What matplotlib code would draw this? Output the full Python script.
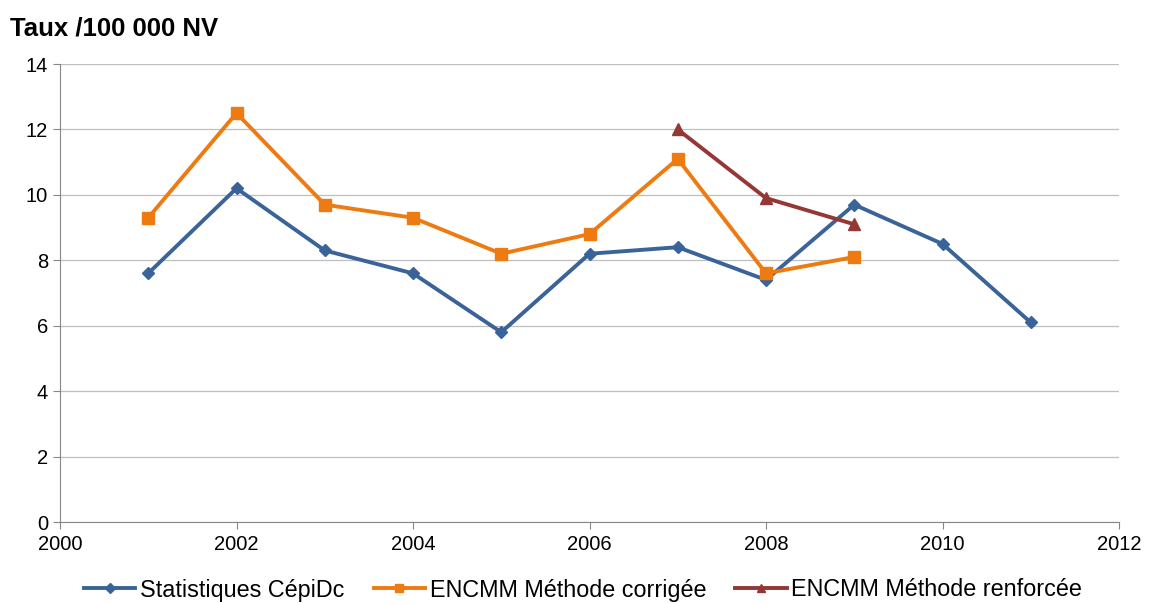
import matplotlib
matplotlib.use("Agg")
import matplotlib.pyplot as plt

plt.rcParams['font.family'] = ['Liberation Sans', 'DejaVu Sans']

years_cepidc = [2001, 2002, 2003, 2004, 2005, 2006, 2007, 2008, 2009, 2010, 2011]
cepidc = [7.6, 10.2, 8.3, 7.6, 5.8, 8.2, 8.4, 7.4, 9.7, 8.5, 6.1]

years_corr = [2001, 2002, 2003, 2004, 2005, 2006, 2007, 2008, 2009]
corrigee = [9.3, 12.5, 9.7, 9.3, 8.2, 8.8, 11.1, 7.6, 8.1]

years_renf = [2007, 2008, 2009]
renforcee = [12.0, 9.9, 9.1]

labels = ["Statistiques CépiDc", "ENCMM Méthode corrigée", "ENCMM Méthode renforcée"]

fig = plt.figure(figsize=(11.5, 6.03), dpi=100)
ax = fig.add_axes([60/1150, 1 - 522/603, (1119 - 60)/1150, (522 - 64)/603])

ax.plot(years_cepidc, cepidc, color='#3A6499', lw=2.8, marker='D', ms=6, label=labels[0])
ax.plot(years_corr, corrigee, color='#EE7A12', lw=2.8, marker='s', ms=8, label=labels[1])
ax.plot(years_renf, renforcee, color='#953735', lw=2.8, marker='^', ms=8, label=labels[2])

ax.set_xlim(2000, 2012)
ax.set_ylim(0, 14)
ax.set_xticks(range(2000, 2013, 2))
ax.set_yticks(range(0, 15, 2))
ax.grid(axis='y', color='#BFBFBF', lw=0.9)
ax.set_axisbelow(True)
for s in ['top', 'right']:
    ax.spines[s].set_visible(False)
for s in ['left', 'bottom']:
    ax.spines[s].set_color('#868686')
ax.tick_params(axis='both', labelsize=14.5, color='#868686', length=5)
ax.tick_params(axis='x', direction='out', pad=4)

fig.text(10/1150, 1 - 28/603, "Taux /100 000 NV", fontsize=18.5, fontweight='bold', va='center')

leg = fig.legend(loc='center', bbox_to_anchor=(0.507, 1 - 590/603), ncol=3, frameon=False,
                 fontsize=16.8, handlelength=2.2, handletextpad=0.2, columnspacing=1.25,
                 markerscale=0.8)

fig.savefig("out.png", dpi=100)
